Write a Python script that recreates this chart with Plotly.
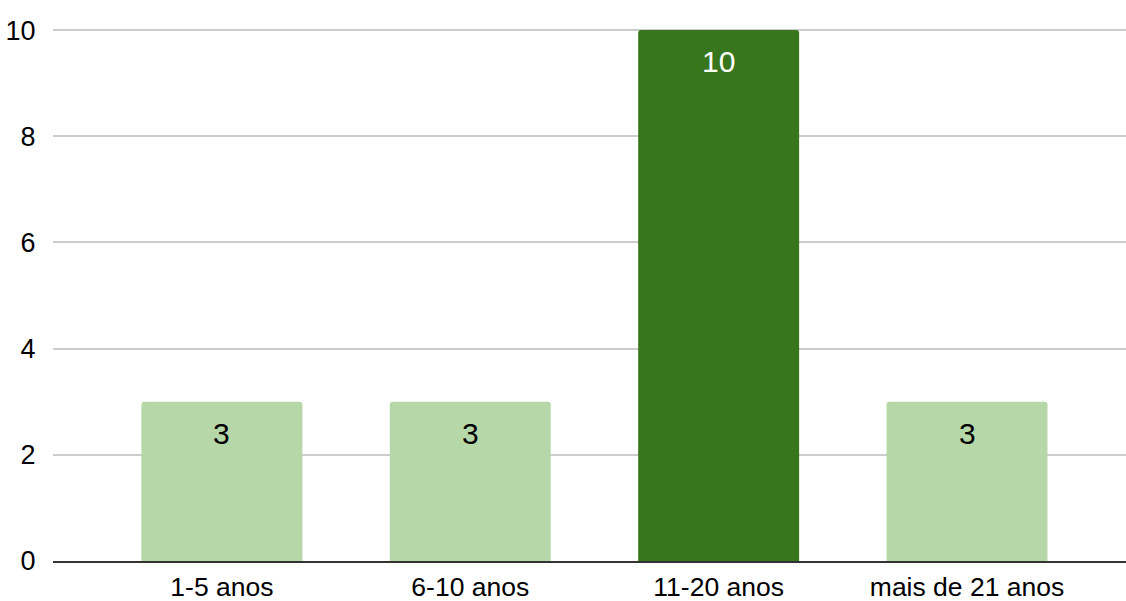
import plotly.graph_objects as go

categories = ["1-5 anos", "6-10 anos", "11-20 anos", "mais de 21 anos"]
values = [3, 3, 10, 3]
bar_colors = ["#b6d7a8", "#b6d7a8", "#38761d", "#b6d7a8"]
label_colors = ["#000000", "#000000", "#ffffff", "#000000"]
y_ticks = [0, 2, 4, 6, 8, 10]

x_pos = list(range(len(categories)))

fig = go.Figure()
fig.add_trace(go.Bar(
    x=x_pos,
    y=values,
    marker=dict(color=bar_colors, line=dict(width=0), cornerradius=3),
    hoverinfo="skip",
))

for xi, v, c in zip(x_pos, values, label_colors):
    fig.add_annotation(
        x=xi, y=v, xref="x", yref="y",
        text=str(v), showarrow=False,
        yanchor="top", xanchor="center", yshift=-13,
        font=dict(family="Liberation Sans, Arial", size=30, color=c),
    )

fig.update_layout(
    width=1126, height=601,
    margin=dict(l=53, r=0, t=29, b=40),
    paper_bgcolor="white", plot_bgcolor="white",
    bargap=0.352,
    showlegend=False,
    font=dict(family="Liberation Sans, Arial", color="#000000"),
)
fig.update_xaxes(
    tickmode="array",
    tickvals=x_pos,
    ticktext=categories,
    range=[-0.68, 3.64],
    showgrid=False,
    showline=True, linecolor="#333333", linewidth=1.5,
    ticks="outside", ticklen=1, tickcolor="rgba(0,0,0,0)",
    tickfont=dict(size=26.5, color="#000000"),
    zeroline=False,
    automargin=False,
)
fig.update_yaxes(
    range=[0, 10.02],
    tickvals=y_ticks,
    showgrid=True, gridcolor="#cccccc", gridwidth=1.5,
    zeroline=False,
    showline=False,
    ticks="outside", ticklen=11, tickcolor="rgba(0,0,0,0)",
    tickfont=dict(size=27, color="#000000"),
    automargin=False,
)

fig.write_html("out.html")
